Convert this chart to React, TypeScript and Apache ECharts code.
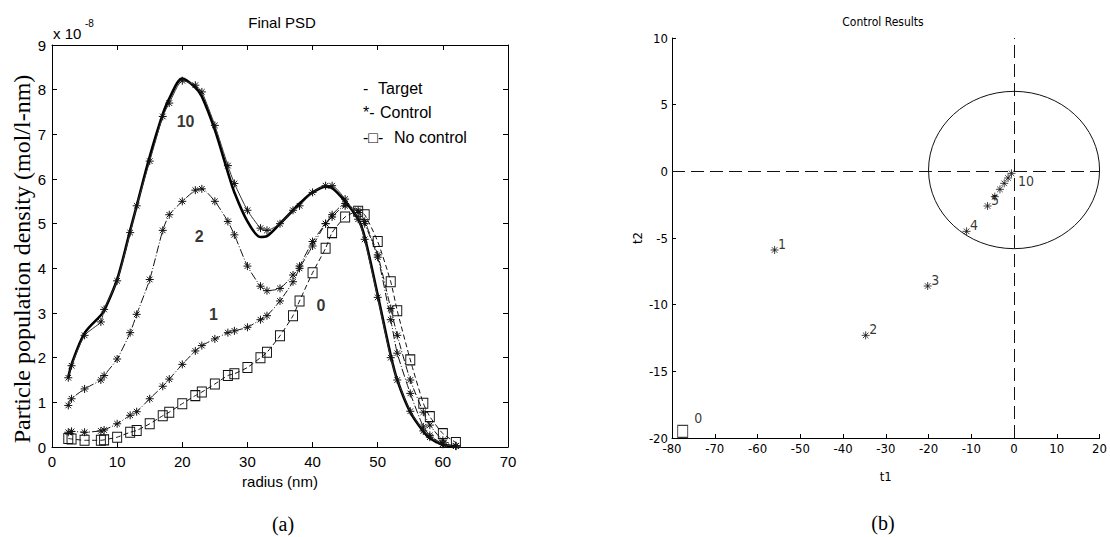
import React, { useEffect, useRef } from 'react';
import * as echarts from 'echarts';

// ---------- Left panel (a): Final PSD ----------
const radius = [2.5, 3, 5, 7.5, 8, 10, 12, 13, 15, 17, 18, 20, 22, 23, 25, 27, 28, 30, 32, 33, 35, 37, 38, 40, 42, 43, 45, 47, 48, 50, 52, 53, 55, 57, 58, 60, 62];
const targetPSD = [1.55, 1.85, 2.55, 2.95, 3.05, 3.75, 4.85, 5.4, 6.5, 7.45, 7.8, 8.25, 8.05, 7.85, 7.1, 6.15, 5.7, 5.05, 4.7, 4.72, 5.0, 5.3, 5.45, 5.7, 5.83, 5.8, 5.5, 5.1, 4.7, 3.4, 2.05, 1.5, 0.78, 0.35, 0.2, 0.05, 0.02];
const control10 = [1.55, 1.82, 2.5, 2.8, 3.08, 3.72, 4.8, 5.4, 6.4, 7.4, 7.7, 8.2, 8.1, 7.95, 7.2, 6.3, 5.9, 5.3, 4.9, 4.85, 5.0, 5.3, 5.4, 5.7, 5.85, 5.85, 5.55, 5.1, 4.65, 3.35, 2.0, 1.5, 0.8, 0.36, 0.22, 0.06, 0.02];
const control2 = [0.93, 1.08, 1.3, 1.5, 1.6, 1.97, 2.56, 2.97, 3.75, 4.85, 5.2, 5.5, 5.75, 5.78, 5.5, 5.05, 4.75, 4.05, 3.6, 3.5, 3.55, 3.85, 4.05, 4.6, 5.0, 5.2, 5.45, 5.25, 5.0, 4.25, 2.85, 2.1, 1.2, 0.45, 0.26, 0.07, 0.02];
const control1 = [0.33, 0.35, 0.33, 0.36, 0.38, 0.52, 0.71, 0.79, 1.08, 1.36, 1.52, 1.85, 2.15, 2.27, 2.42, 2.56, 2.6, 2.68, 2.85, 2.94, 3.27, 3.7, 4.0, 4.5, 5.0, 5.15, 5.4, 5.3, 5.05, 4.3, 3.1, 2.5, 1.5, 0.78, 0.49, 0.15, 0.03];
const noControl0 = [0.19, 0.18, 0.15, 0.15, 0.16, 0.22, 0.33, 0.37, 0.52, 0.7, 0.78, 0.97, 1.15, 1.23, 1.41, 1.6, 1.64, 1.78, 2.0, 2.12, 2.49, 2.94, 3.27, 3.9, 4.45, 4.8, 5.15, 5.28, 5.2, 4.6, 3.7, 3.05, 1.95, 0.98, 0.68, 0.3, 0.1];
const curveLabelText = ['10', '2', '1', '0'];
const curveLabelX = [20.5, 22.6, 24.8, 41.3];
const curveLabelY = [7.29, 4.71, 2.97, 3.16];
const legendMarks = ['-', '*-', '-\u25A1-'];
const legendNames = ['Target', 'Control', 'No control'];

// ---------- Right panel (b): Control Results ----------
const t1Control = [-56.0, -34.7, -20.2, -11.1, -6.2, -4.5, -3.3, -2.3, -1.4, -0.6];
const t2Control = [-5.9, -12.3, -8.6, -4.5, -2.6, -1.9, -1.35, -0.9, -0.5, -0.15];
const iterLabels = ['1', '2', '3', '4', '5', '', '', '', '', '10'];
const t1NoControl = [-77.5];
const t2NoControl = [-19.5];
const noControlLabels = ['0'];
const limitEllipse = [0, 0.1, 20, 5.9]; // centre t1, centre t2, radius t1, radius t2

const SANS = '"Liberation Sans", Arial, sans-serif';
const NARROW = '"Liberation Sans Narrow", "DejaVu Sans Condensed", "Liberation Sans", sans-serif';
const SERIF = '"Liberation Serif", "Times New Roman", serif';
const STAR = 'path://M5,0L5,10M0,5L10,5M1.5,1.5L8.5,8.5M1.5,8.5L8.5,1.5';

function pairs(xs: number[], ys: number[]) {
  return xs.map((x, i) => [x, ys[i]]);
}

export default function App() {
  const ref = useRef<HTMLDivElement>(null);
  useEffect(() => {
    if (!ref.current) return;
    const chart = echarts.init(ref.current, undefined, { renderer: 'svg' });
    const axisLine = { show: true, onZero: false, lineStyle: { color: '#000', width: 1 } };
    const tickIn = (len: number) => ({ show: true, inside: true, length: len, lineStyle: { color: '#000', width: 1 } });

    const starStyle = { color: 'transparent', borderColor: '#111', borderWidth: 1 };

    const option: any = {
      animation: false,
      backgroundColor: '#fff',
      color: ['#111'],
      grid: [
        { left: 52, top: 45, width: 456, height: 402 },
        { left: 672, top: 38, width: 430, height: 400 },
      ],
      xAxis: [
        {
          gridIndex: 0, type: 'value', min: 0, max: 70, interval: 10, position: 'bottom',
          axisLine, axisTick: tickIn(5), splitLine: { show: false },
          axisLabel: { color: '#000', fontSize: 15, fontFamily: SANS, margin: 7 },
          name: 'radius (nm)', nameLocation: 'middle', nameGap: 27,
          nameTextStyle: { color: '#000', fontSize: 15, fontFamily: SANS },
        },
        {
          gridIndex: 0, type: 'value', min: 0, max: 70, interval: 10, position: 'top',
          axisLine, axisTick: tickIn(5), splitLine: { show: false }, axisLabel: { show: false },
        },
        {
          gridIndex: 1, type: 'value', min: -80, max: 20, interval: 10, position: 'bottom',
          axisLine, axisTick: tickIn(4), splitLine: { show: false },
          axisLabel: { color: '#000', fontSize: 13, fontFamily: NARROW, margin: 4 },
          name: 't1', nameLocation: 'middle', nameGap: 32,
          nameTextStyle: { color: '#000', fontSize: 13, fontFamily: NARROW },
        },
      ],
      yAxis: [
        {
          gridIndex: 0, type: 'value', min: 0, max: 9, interval: 1, position: 'left',
          axisLine, axisTick: tickIn(5), splitLine: { show: false },
          axisLabel: { color: '#000', fontSize: 15, fontFamily: SANS, margin: 6 },
        },
        {
          gridIndex: 0, type: 'value', min: 0, max: 9, interval: 1, position: 'right',
          axisLine, axisTick: tickIn(5), splitLine: { show: false }, axisLabel: { show: false },
        },
        {
          gridIndex: 1, type: 'value', min: -20, max: 10, interval: 5, position: 'left',
          axisLine, axisTick: tickIn(4), splitLine: { show: false },
          axisLabel: { color: '#000', fontSize: 13, fontFamily: NARROW, margin: 4 },
          name: 't2', nameLocation: 'middle', nameGap: 28,
          nameTextStyle: { color: '#000', fontSize: 13, fontFamily: NARROW },
        },
      ],
      series: [
        {
          name: 'No control (0)', type: 'line', xAxisIndex: 0, yAxisIndex: 0,
          data: pairs(radius, noControl0), smooth: 0.2,
          symbol: 'rect', symbolSize: [9, 10],
          itemStyle: { color: 'transparent', borderColor: '#111', borderWidth: 1 },
          lineStyle: { color: '#111', width: 1, type: [5, 3] },
        },
        {
          name: 'Control 1', type: 'line', xAxisIndex: 0, yAxisIndex: 0,
          data: pairs(radius, control1), smooth: 0.2,
          symbol: STAR, symbolSize: 8, itemStyle: starStyle,
          lineStyle: { color: '#111', width: 1, type: [7, 2, 1, 2] },
        },
        {
          name: 'Control 2', type: 'line', xAxisIndex: 0, yAxisIndex: 0,
          data: pairs(radius, control2), smooth: 0.2,
          symbol: STAR, symbolSize: 8, itemStyle: starStyle,
          lineStyle: { color: '#111', width: 1, type: [8, 2, 1, 2] },
        },
        {
          name: 'Target', type: 'line', xAxisIndex: 0, yAxisIndex: 0,
          data: pairs(radius, targetPSD), smooth: 0.3,
          symbol: 'none', lineStyle: { color: '#000', width: 2.6 },
        },
        {
          name: 'Control 10', type: 'line', xAxisIndex: 0, yAxisIndex: 0,
          data: pairs(radius, control10), smooth: 0.2,
          symbol: STAR, symbolSize: 8, itemStyle: starStyle,
          lineStyle: { color: '#333', width: 1 },
        },
        {
          name: 'curve labels', type: 'scatter', xAxisIndex: 0, yAxisIndex: 0,
          symbolSize: 0, silent: true, itemStyle: { color: '#000' },
          data: curveLabelText.map((t, i) => ({ name: t, value: [curveLabelX[i], curveLabelY[i]] })),
          label: {
            show: true, position: 'inside', formatter: (p: any) => p.name,
            color: '#000', textBorderWidth: 0, fontSize: 16, fontFamily: SANS, fontWeight: 'bold',
          },
        },
        // ---- right panel ----
        {
          name: 'limit', type: 'custom', xAxisIndex: 2, yAxisIndex: 2,
          data: [limitEllipse], encode: { x: 0, y: 1 }, silent: true,
          renderItem: (params: any, api: any) => {
            const c = api.coord([api.value(0), api.value(1)]);
            const s = api.size([api.value(2), api.value(3)]);
            return {
              type: 'ellipse',
              shape: { cx: c[0], cy: c[1], rx: s[0], ry: s[1] },
              style: { fill: 'none', stroke: '#111', lineWidth: 1 },
            };
          },
        },
        {
          name: 'Control iterations', type: 'scatter', xAxisIndex: 2, yAxisIndex: 2,
          symbol: STAR, symbolSize: 8, itemStyle: starStyle,
          data: t1Control.map((x, i) => ({
            name: iterLabels[i], value: [x, t2Control[i]],
            label: iterLabels[i] === '10'
              ? { show: true, position: 'right', distance: 0, offset: [2, 8], color: '#000', fontSize: 14, fontFamily: NARROW, formatter: (p: any) => p.name }
              : undefined,
          })),
          label: {
            show: true, position: 'right', distance: 0, offset: [-1, -6],
            formatter: (p: any) => p.name, color: '#000', fontSize: 14, fontFamily: NARROW,
          },
          markLine: {
            silent: true, symbol: ['none', 'none'], label: { show: false },
            lineStyle: { color: '#111', width: 1, type: [13, 6] },
            data: [{ xAxis: 0 }, { yAxis: 0 }],
          },
        },
        {
          name: 'No control start', type: 'scatter', xAxisIndex: 2, yAxisIndex: 2,
          symbol: 'rect', symbolSize: [10, 12],
          itemStyle: { color: 'transparent', borderColor: '#111', borderWidth: 1 },
          data: t1NoControl.map((x, i) => ({ name: noControlLabels[i], value: [x, t2NoControl[i]] })),
          label: {
            show: true, position: 'right', distance: 6, offset: [0, -13],
            formatter: (p: any) => p.name, color: '#000', fontSize: 14, fontFamily: NARROW,
          },
        },
      ],
      graphic: [
        { type: 'text', x: 282, y: 22, style: { text: 'Final PSD', fill: '#000', fontSize: 15, fontFamily: SANS, align: 'center', verticalAlign: 'middle' } },
        { type: 'text', x: 53, y: 33, style: { text: 'x 10', fill: '#000', fontSize: 15, fontFamily: SANS, align: 'left', verticalAlign: 'middle' } },
        { type: 'text', x: 85, y: 23, style: { text: '-8', fill: '#000', fontSize: 10, fontFamily: SANS, align: 'left', verticalAlign: 'middle' } },
        {
          type: 'text', x: 22, y: 259, rotation: Math.PI / 2,
          style: { text: 'Particle population density (mol/l-nm)', fill: '#000', fontSize: 24, fontFamily: SERIF, align: 'center', verticalAlign: 'middle' },
        },
        ...legendMarks.map((t, i) => ({
          type: 'text', x: 363, y: 88 + i * 24.5,
          style: { text: t, fill: '#000', fontSize: 16, fontFamily: SANS, align: 'left', verticalAlign: 'middle' },
        })),
        ...legendNames.map((t, i) => ({
          type: 'text', x: [378, 380, 394][i], y: 88 + i * 24.5,
          style: { text: t, fill: '#000', fontSize: 16, fontFamily: SANS, align: 'left', verticalAlign: 'middle' },
        })),
        { type: 'text', x: 283, y: 524, style: { text: '(a)', fill: '#000', fontSize: 20, fontFamily: SERIF, align: 'center', verticalAlign: 'middle' } },
        { type: 'text', x: 883, y: 22, style: { text: 'Control Results', fill: '#000', fontSize: 12, fontFamily: NARROW, align: 'center', verticalAlign: 'middle' } },
        { type: 'text', x: 883, y: 523, style: { text: '(b)', fill: '#000', fontSize: 20, fontFamily: SERIF, align: 'center', verticalAlign: 'middle' } },
      ],
    };
    chart.setOption(option);
    return () => chart.dispose();
  }, []);
  return (
    <div
      ref={ref}
      style={{ position: 'fixed', left: 0, top: 0, width: 1110, height: 537, background: '#fff' }}
    />
  );
}
